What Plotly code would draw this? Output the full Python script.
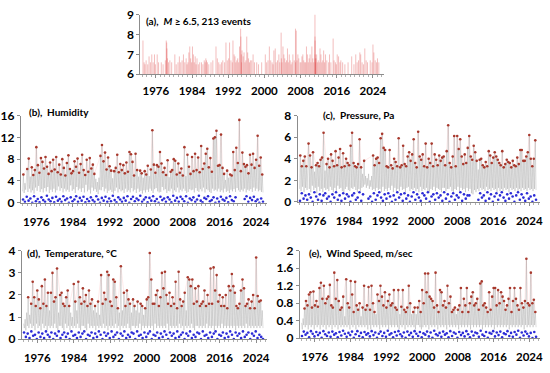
import plotly.graph_objects as go

# ---------------- data ----------------
eq_year = [1973.15,1973.4,1973.6,1973.85,1974.2,1974.5,1974.8,1975.1,1975.4,1975.7,1975.9,1976.3,1976.6,
1977.2,1977.6,1978.1,1978.3,1978.4,1978.45,1978.55,1978.8,1979.1,1979.5,1980.2,1980.5,1980.9,
1981.2,1981.5,1981.8,1982.1,1982.4,1982.7,1982.9,1983.1,1983.3,1983.5,1983.7,1983.9,
1984.1,1984.3,1984.5,1984.7,1984.9,1985.1,1985.4,1985.7,1986.1,1986.4,1986.7,1986.9,
1987.05,1987.2,1987.4,1987.7,1988.2,1988.6,1989.3,1989.6,1989.9,1990.2,1990.5,1990.8,
1991.2,1991.5,1991.8,1992.1,1992.3,1992.6,1992.9,1993.05,1993.3,1993.5,1993.7,1993.9,
1994.1,1994.3,1994.5,1994.75,1994.8,1994.9,1994.95,1995.05,1995.3,1995.5,1995.7,1995.9,
1996.1,1996.3,1996.5,1996.7,1996.9,1997.2,1997.5,1997.8,1998.3,1998.7,1999.4,
2000.2,2000.5,2000.8,2001.1,2001.4,2001.7,2001.9,2002.1,2002.4,2002.6,2002.9,
2003.2,2003.4,2003.7,2003.75,2003.9,2004.1,2004.3,2004.5,2004.7,2004.9,
2005.1,2005.3,2005.5,2005.7,2005.9,2006.1,2006.3,2006.6,2006.87,2006.9,
2007.04,2007.2,2007.4,2007.6,2007.9,2008.1,2008.3,2008.5,2008.7,2008.9,
2009.1,2009.3,2009.5,2009.7,2009.9,2010.1,2010.3,2010.5,2010.7,2010.9,
2011.18,2011.19,2011.2,2011.22,2011.25,2011.3,2011.4,2011.55,2011.7,2011.9,
2012.1,2012.3,2012.5,2012.7,2012.9,2013.1,2013.3,2013.5,2013.8,2014.2,2014.4,2014.7,
2015.2,2015.4,2015.7,2015.9,2016.1,2016.4,2016.7,2016.9,2017.3,2017.8,2018.5,
2019.3,2019.8,2020.2,2020.5,2020.8,2021.1,2021.3,2021.6,2021.9,2022.2,2022.5,2022.8,
2023.4,2023.8,2024.0,2024.2,2024.5,2024.8,2025.0,2025.3]
eq_mag = [7.7,6.6,6.5,6.7,6.5,6.9,6.6,7.0,6.6,7.0,6.5,7.0,6.6,
6.6,6.5,6.7,7.7,7.6,7.3,6.8,6.6,6.7,6.6,7.0,6.5,6.6,
6.9,6.6,6.7,7.0,6.6,6.8,6.5,6.6,7.1,7.4,6.8,6.6,
7.4,7.0,6.6,6.9,6.5,6.8,6.5,6.6,6.6,6.5,6.7,6.6,
6.8,6.7,6.6,6.5,6.6,6.7,7.4,6.8,6.6,6.5,6.6,6.7,
6.6,7.6,6.7,6.8,7.6,6.7,6.6,7.7,7.0,6.9,6.6,6.7,
6.8,6.6,7.4,8.3,7.9,7.0,6.6,7.2,6.9,7.1,6.6,6.7,
7.9,7.1,6.8,6.6,6.7,6.7,7.0,6.6,6.6,6.5,6.6,
7.0,6.6,6.7,7.4,6.7,6.6,6.5,7.2,7.3,6.6,6.7,
7.0,6.6,8.1,6.8,6.6,7.4,7.0,6.8,6.6,6.7,
7.3,6.6,7.0,6.7,6.5,6.6,7.0,6.7,8.3,6.6,
8.2,6.7,7.0,6.8,6.6,6.6,6.9,7.0,6.7,6.6,
6.6,7.4,7.0,6.6,6.8,7.0,6.6,7.4,6.8,6.6,
9.1,7.9,7.7,7.0,6.8,6.6,6.8,7.0,6.6,6.7,
6.6,7.3,7.0,6.6,6.7,7.2,6.6,7.0,6.7,6.6,7.0,6.6,
7.8,6.7,6.6,6.5,7.0,6.9,6.6,6.7,6.6,6.5,6.6,
6.9,6.5,7.0,6.6,6.7,7.1,7.0,6.6,6.5,7.3,6.7,6.6,
6.7,6.6,7.5,7.1,6.7,6.6,6.8,6.6]

series_start = 1973.0   # bimonthly samples
humidity = [2.1,5.2,1.8,3.6,2.4,4.1, 6.2,2.0,8.1,2.6,4.8,1.9, 6.5,2.3,5.1,1.7,6.0,2.8,
10.2,2.2,6.9,3.1,5.5,2.0, 8.2,2.5,7.5,1.9,6.3,2.7, 8.4,2.1,6.6,2.9,5.3,1.8,
7.4,2.4,5.8,2.0,7.9,2.6, 6.1,1.9,8.4,2.3,5.6,3.0, 7.0,2.2,5.2,2.7,8.0,1.9,
6.4,2.6,5.0,2.1,7.3,2.4, 8.7,2.0,6.2,3.2,5.4,2.2, 5.8,2.5,7.6,1.8,6.6,2.9,
8.1,2.3,5.5,2.6,7.1,2.0, 8.8,2.7,6.0,1.9,5.1,3.3, 7.9,2.1,5.7,2.4,8.2,1.7,
6.3,2.8,7.0,2.2,5.3,2.5, 4.4,2.0,3.8,1.6,4.6,2.4, 8.6,2.3,10.6,2.9,7.6,2.1,
9.2,2.6,6.1,1.8,8.3,2.2, 6.7,2.4,5.9,2.0,4.5,1.7, 5.8,2.2,6.4,2.8,8.8,1.9,
5.6,2.5,7.1,2.1,6.0,2.3, 6.9,1.8,5.4,2.6,7.4,2.0, 5.7,2.3,9.3,1.9,8.9,2.7,
7.5,2.1,5.0,2.4,9.0,1.8, 6.0,2.6,4.8,2.0,5.9,2.2, 5.4,1.7,4.6,2.3,5.8,1.9,
5.2,2.4,6.8,2.0,4.9,2.6, 6.1,2.2,13.3,1.8,7.0,2.5, 5.5,2.7,6.9,2.1,6.6,1.9,
9.3,2.0,7.2,2.9,5.6,2.3, 6.4,2.5,5.1,1.8,7.8,2.2, 4.7,2.1,5.7,2.6,6.0,1.7,
8.0,2.3,7.7,2.0,5.2,2.8, 7.2,1.9,5.5,2.4,6.3,2.1, 5.0,2.6,10.2,2.2,4.9,1.8,
8.8,2.0,6.6,2.5,5.3,2.3, 8.4,2.4,5.8,1.9,9.0,2.7, 6.0,2.2,8.3,2.0,5.6,2.5,
10.4,2.1,6.2,2.8,7.2,1.9, 9.0,2.5,9.9,2.3,6.5,2.0, 8.2,1.8,5.7,2.6,11.8,2.2,
12.0,2.4,13.2,2.1,6.8,2.6, 6.9,2.0,12.5,2.3,6.4,1.9, 5.3,2.6,4.2,2.0,5.9,2.2,
4.6,1.8,5.2,2.4,5.0,2.1, 9.3,2.5,6.0,2.0,10.1,2.7, 7.3,2.3,15.2,2.0,5.8,2.4,
9.2,2.1,7.1,2.6,6.6,1.9, 6.9,2.4,5.4,2.2,8.8,2.5, 7.0,2.0,9.0,2.8,6.4,2.2,
7.9,2.6,12.3,2.1,6.8,2.3, 8.3,2.0,5.2,1.9]
pressure = [1.2,4.3,1.0,3.3,1.4,3.8, 0.9,4.2,1.3,3.3,1.1,2.6, 5.4,1.2,4.3,0.9,3.2,1.5,
4.6,1.1,2.8,1.3,3.4,0.8, 3.6,1.4,3.3,1.0,3.9,1.2, 4.1,0.9,6.4,1.3,2.9,1.1,
3.5,1.2,4.0,1.0,3.2,1.4, 4.4,1.1,3.8,0.9,3.3,1.3, 4.7,1.0,3.4,1.5,4.1,1.2,
4.9,1.3,3.2,1.0,4.5,0.9, 3.3,1.2,4.0,1.4,3.6,1.1, 3.4,1.0,5.2,1.3,6.4,1.2,
3.6,1.4,3.3,1.1,3.2,0.9, 3.5,1.2,5.8,1.0,3.2,1.3, 2.6,1.4,3.8,1.6,2.4,1.3,
2.2,1.5,2.6,1.2,2.0,1.4, 2.4,1.1,4.3,1.2,3.4,1.0, 4.0,1.3,4.1,1.1,3.6,1.2,
5.9,0.9,6.3,1.4,5.0,1.0, 4.8,1.2,3.3,1.0,3.2,1.3, 4.8,1.1,3.4,1.5,3.1,0.9,
4.0,1.3,3.7,1.0,3.3,1.2, 5.9,1.0,3.2,1.4,3.4,1.1, 5.2,1.2,3.5,0.9,3.3,1.3,
4.2,1.4,4.6,1.0,3.8,1.2, 4.4,1.1,5.8,1.3,3.6,1.0, 3.2,1.2,6.5,0.9,4.2,1.4,
3.9,1.0,4.4,1.2,3.3,1.1, 5.4,1.3,3.2,1.0,4.0,0.9, 3.6,1.2,5.4,1.1,3.3,1.4,
4.4,1.0,3.9,1.3,3.4,1.2, 4.3,1.1,3.8,0.9,4.1,1.3, 4.2,1.3,3.4,1.0,4.7,1.2,
7.1,1.2,3.6,1.4,3.2,1.0, 4.2,0.9,6.1,1.2,3.3,1.1, 6.1,1.4,4.9,1.0,5.8,1.3,
4.2,1.1,3.5,1.2,4.4,0.9, 3.6,1.3,5.0,1.0,6.1,1.2, 4.2,0.8,3.9,0.7,5.2,1.1,
4.6,0.9,3.8,1.2,3.0,1.0, 3.9,1.3,4.0,1.1,3.4,1.2, 3.2,1.0,3.7,1.4,3.3,1.1,
4.7,1.2,4.3,1.0,3.6,1.3, 4.1,1.1,4.6,1.2,4.2,0.9, 3.9,1.3,3.6,1.0,3.4,1.2,
4.7,1.0,3.2,1.3,3.5,1.1, 3.9,1.2,3.7,0.9,3.6,1.3, 3.2,1.1,3.8,1.2,3.4,1.0,
3.3,1.3,4.1,1.0,3.5,1.2, 4.8,1.0,4.8,1.3,3.8,1.1, 3.8,1.2,4.2,1.0,4.6,1.3,
6.2,1.1,4.0,1.2,3.3,1.0, 4.0,1.2,5.7,1.1]
temperature = [0.7,0.5,0.9,0.4,1.2,0.6, 1.9,0.5,1.1,0.7,1.6,0.5, 2.6,0.6,1.9,0.4,1.5,0.7,
2.2,0.5,1.8,0.6,1.4,0.4, 2.4,0.7,1.6,0.5,2.7,0.6, 1.5,0.4,2.1,0.6,1.3,0.5,
2.1,0.6,3.0,0.5,1.7,0.7, 1.9,0.5,3.2,0.4,1.2,0.6, 2.0,0.6,2.1,0.5,1.6,0.4,
1.5,0.7,1.9,0.5,2.2,0.6, 1.5,0.4,1.2,0.6,1.0,0.5, 2.5,0.6,1.7,0.5,1.3,0.7,
2.6,0.5,1.9,0.4,1.6,0.6, 2.3,0.6,1.7,0.5,2.0,0.4, 1.5,0.7,2.2,0.5,1.6,0.6,
1.8,0.5,1.3,0.6,1.5,0.4, 1.2,0.6,1.7,0.5,1.1,0.6, 2.9,0.5,1.6,0.7,2.1,0.5,
1.8,0.6,3.05,0.4,2.9,0.6, 1.7,0.5,1.5,0.6,2.7,0.5, 2.6,0.7,1.9,0.5,1.4,0.6,
1.2,0.4,3.3,0.6,1.3,0.5, 2.1,0.6,1.5,0.5,2.2,0.7, 1.8,0.5,1.6,0.4,1.2,0.6,
1.8,0.6,1.5,0.5,1.3,0.6, 1.7,0.5,1.2,0.7,1.6,0.4, 1.5,0.6,1.1,0.5,1.4,0.6,
1.8,0.5,1.9,0.6,3.9,0.5, 2.7,0.6,1.6,0.4,1.6,0.7, 2.0,0.5,2.2,0.6,1.5,0.5,
1.9,0.6,3.0,0.5,2.3,0.6, 3.05,0.5,2.0,0.7,1.6,0.4, 2.1,0.6,1.5,0.5,1.9,0.6,
1.6,0.5,2.6,0.6,1.4,0.5, 3.05,0.7,1.8,0.5,1.5,0.6, 1.7,0.4,2.1,0.6,1.3,0.5,
2.8,0.6,2.7,0.5,2.4,0.7, 2.7,0.5,1.6,0.4,2.3,0.6, 1.7,0.6,2.4,0.5,1.5,0.6,
1.6,0.5,1.7,0.6,2.2,0.5, 1.5,0.7,2.0,0.5,1.6,0.6, 3.2,0.5,1.6,0.6,3.25,0.4,
2.2,0.6,2.9,0.5,1.7,0.6, 2.0,0.5,1.5,0.7,1.9,0.5, 1.5,0.6,2.0,0.5,1.4,0.6,
2.4,0.5,2.2,0.6,2.95,0.5, 2.4,0.6,2.1,0.4,1.5,0.6, 1.4,0.5,1.6,0.6,2.2,0.5,
2.7,0.6,2.3,0.5,1.5,0.7, 1.6,0.5,1.8,0.6,1.4,0.5, 1.7,0.6,2.0,0.5,1.4,0.6,
3.7,0.5,1.95,0.6,1.7,0.5, 1.75,0.6,1.3,0.5]
wind = [0.35,0.2,0.45,0.3,0.68,0.25, 0.85,0.3,0.75,0.2,1.0,0.3, 1.05,0.25,0.7,0.3,1.07,0.2,
0.75,0.3,0.85,0.25,0.72,0.3, 1.15,0.2,1.27,0.3,0.9,0.25, 1.2,0.3,0.8,0.2,0.9,0.3,
0.95,0.25,1.22,0.3,0.75,0.2, 0.7,0.3,1.5,0.25,0.9,0.3, 1.33,0.2,0.85,0.3,0.65,0.25,
0.7,0.3,0.95,0.25,0.5,0.3, 1.35,0.25,0.8,0.3,0.7,0.2, 1.31,0.3,1.0,0.25,0.6,0.3,
1.29,0.2,0.75,0.3,0.65,0.25, 0.8,0.3,0.5,0.25,0.7,0.3, 1.2,0.25,0.65,0.3,0.75,0.2,
1.17,0.3,0.65,0.2,1.2,0.3, 0.8,0.25,0.6,0.3,0.55,0.25, 1.0,0.3,0.85,0.2,1.2,0.3,
0.95,0.25,0.75,0.3,1.05,0.25, 0.7,0.3,0.85,0.2,1.0,0.3, 0.75,0.25,0.8,0.3,1.1,0.25,
0.7,0.3,0.65,0.25,1.1,0.2, 0.55,0.3,0.72,0.25,1.1,0.3, 0.65,0.2,0.6,0.3,0.7,0.25,
1.2,0.3,0.8,0.25,0.55,0.3, 0.6,0.25,0.7,0.2,0.55,0.3, 0.7,0.3,0.85,0.25,0.6,0.2,
1.1,0.25,0.8,0.3,1.48,0.25, 1.05,0.3,1.48,0.2,0.95,0.3, 0.9,0.25,0.85,0.3,0.7,0.25,
1.5,0.3,0.75,0.2,0.6,0.3, 1.1,0.25,1.05,0.3,0.75,0.25, 0.85,0.3,0.7,0.2,1.2,0.3,
0.8,0.25,0.95,0.3,0.6,0.25, 0.65,0.3,0.7,0.25,0.55,0.3, 0.65,0.2,0.75,0.3,1.15,0.25,
0.6,0.3,0.9,0.25,0.75,0.3, 1.15,0.25,0.6,0.3,0.8,0.2, 0.95,0.3,1.05,0.25,0.75,0.3,
0.8,0.25,0.9,0.3,0.65,0.25, 1.25,0.3,1.3,0.2,0.75,0.3, 0.8,0.25,0.7,0.3,0.6,0.25,
1.05,0.3,0.65,0.25,0.95,0.3, 1.15,0.2,1.15,0.3,0.75,0.25, 1.1,0.3,0.8,0.25,1.05,0.3,
0.95,0.25,0.85,0.3,0.65,0.25, 0.75,0.3,0.9,0.2,1.15,0.3, 0.6,0.25,0.85,0.3,1.15,0.25,
0.9,0.3,0.75,0.25,0.65,0.3, 1.15,0.25,0.8,0.3,0.7,0.2, 0.85,0.3,1.82,0.25,0.8,0.3,
0.75,0.25,1.5,0.3,0.8,0.25, 0.88,0.3,0.6,0.25]

minima_start = 1973.1   # minima sampled every 0.4 yr
hum_min = [0.6,0.2,1.1,0.4,0.8,0.0,1.2,0.3,0.7,0.1, 1.0,0.5,0.2,1.3,0.6,0.3,0.9,0.1,1.1,0.4,
0.7,0.2,1.2,0.5,0.8,0.0,1.0,0.3,0.6,1.2, 0.2,0.9,0.4,1.1,0.1,0.7,0.3,1.0,0.5,0.2,
1.2,0.6,0.0,0.9,0.4,1.1,0.2,0.8,0.3,1.3, 0.5,0.1,1.0,0.6,0.2,0.9,0.4,1.2,0.0,0.7,
1.1,0.3,0.8,0.5,1.3,0.2,0.6,1.0,0.1,0.9, 0.4,1.2,0.3,0.7,0.0,1.1,0.5,0.8,0.2,1.0,
0.6,0.1,1.3,0.4,0.9,0.2,1.1,0.7,0.3,1.2, 0.0,0.8,0.5,1.0,0.2,0.6,1.3,0.4,0.1,0.9,
0.7,1.2,0.3,0.5,1.0,0.0,0.8,0.2,1.1,0.6, 0.4,0.9,0.1,1.2,0.5,0.3,1.0,None,None,None,
None,0.7,1.2,0.2,0.9,0.5,1.1,0.3,0.6,0.0, 0.8,0.2]
pres_min = [0.1,0.8,0.3,0.6,0.2,0.7,0.4,0.0,0.9,0.5, 0.2,0.7,0.1,0.6,0.8,0.3,0.5,0.0,0.7,0.4,
0.9,0.2,0.6,0.1,0.8,0.3,0.7,0.5,0.0,0.6, 0.8,0.2,0.4,0.9,0.1,0.7,None,None,0.3,0.5,
0.0,0.8,0.2,0.6,0.9,0.4,0.1,0.7,0.3,0.8, 0.5,0.0,0.6,0.2,0.9,0.4,0.7,0.1,0.8,0.3,
0.6,0.0,0.5,0.9,0.2,0.7,0.4,0.1,0.8,0.6, 0.3,0.9,0.0,0.5,0.7,0.2,0.8,0.4,0.6,0.1,
0.9,0.3,0.7,0.0,0.5,0.8,0.2,0.6,0.4,0.9, 0.1,0.7,0.3,0.6,0.6,None,None,None,None,0.2,
0.8,0.4,0.6,0.1,0.9,0.3,0.7,0.0,0.5,0.8, 0.2,0.6,0.9,0.4,0.1,0.7,0.3,0.8,0.5,0.0,
0.6,0.9,0.2,0.7,0.4,0.1,0.8,0.3,0.5,0.0, 0.6,0.2]
temp_min = [0.3,0.1,0.25,0.05,0.35,0.15,0.2,0.0,0.3,0.1, 0.25,0.05,0.35,0.2,0.1,0.3,0.0,0.25,0.15,0.35,
0.05,0.2,0.3,0.1,0.25,0.0,0.35,0.15,0.2,0.05, 0.3,0.1,0.25,0.35,0.0,0.2,0.15,0.3,0.05,0.25,
0.1,0.35,0.2,0.0,0.3,0.15,0.25,0.05,0.35,0.1, 0.2,0.3,0.0,0.25,0.15,0.35,0.05,0.2,0.1,0.3,
0.25,0.0,0.35,0.15,0.2,0.05,0.3,0.1,0.25,0.35, 0.0,0.2,0.15,0.3,0.05,0.25,0.1,0.35,0.2,0.0,
0.3,0.15,0.25,0.05,0.35,0.1,0.2,0.3,0.0,0.25, 0.15,0.35,0.05,0.2,0.1,0.3,0.25,0.0,0.35,0.15,
0.2,0.05,0.3,0.1,0.25,0.35,0.0,0.2,0.15,0.3, 0.05,0.25,0.1,0.35,0.2,0.0,0.3,0.15,0.25,0.05,
0.35,0.1,0.2,0.3,0.0,0.25,0.15,0.35,0.05,0.2, 0.1,0.0]
wind_min = [0.05,0.15,0.08,0.12,0.02,0.16,0.1,0.04,0.14,0.07, 0.12,0.01,0.16,0.09,0.05,0.13,0.03,0.15,0.08,0.11,
0.02,0.14,0.06,0.17,0.1,0.03,0.12,0.07,0.15,0.01, 0.09,0.16,0.05,0.12,0.02,0.14,0.08,0.11,0.04,0.16,
0.07,0.13,0.01,0.1,0.15,0.05,0.12,0.03,0.17,0.08, 0.11,0.02,0.14,0.06,0.16,0.09,0.04,0.13,0.01,0.15,
0.07,0.12,0.03,0.16,0.1,0.05,0.14,0.02,0.11,0.08, 0.15,0.04,0.13,0.01,0.17,0.09,0.06,0.12,0.03,0.15,
0.08,0.11,0.02,0.16,0.05,0.13,0.1,0.01,0.14,0.07, 0.12,0.04,0.16,0.09,0.02,0.15,0.06,0.13,0.11,0.03,
0.17,0.08,0.05,0.14,0.01,0.12,0.1,0.16,0.04,0.13, 0.07,0.15,0.02,0.11,0.09,0.16,0.05,0.12,0.03,0.14,
0.08,0.17,0.01,0.13,0.06,0.15,0.1,0.04,0.12,0.0, 0.14,0.03]

year_ticks = [1976, 1984, 1992, 2000, 2008, 2016, 2024]

panels = [
    # values, minima, peak threshold, y range, dtick, title, x domain, y domain, title pos
    (humidity, hum_min, 5.0, [0, 16], 4, "<b>(b),  Humidity</b>",
     [0.0327, 0.4855], [0.4558, 0.6997], (0.044, 0.7105)),
    (pressure, pres_min, 3.1, [0, 8], 2, "<b>(c),  Pressure, Pa</b>",
     [0.5418, 0.9873], [0.4584, 0.6997], (0.585, 0.7024)),
    (temperature, temp_min, 1.4, [0, 4], 1, "<b>(d),  Temperature, °C</b>",
     [0.0345, 0.4855], [0.0751, 0.3217], (0.04, 0.3164)),
    (wind, wind_min, 0.6, [0, 2], 0.4, "<b>(e),  Wind Speed, m/sec</b>",
     [0.5455, 0.9873], [0.0778, 0.3217], (0.558, 0.3164)),
]

FONT = "Lato"
AX = dict(showline=True, linecolor="#8c8c8c", linewidth=1, showgrid=False, zeroline=False,
          ticks="outside", ticklen=3, tickcolor="#8c8c8c",
          tickfont=dict(family=FONT, size=11.5, color="black", weight="bold"))
XMINOR = dict(dtick=1, tick0=1972, ticks="outside", ticklen=2, tickcolor="#b0b0b0")

fig = go.Figure()

# ---- panel (a): earthquake stems ----
sx, sy = [], []
for t, m in zip(eq_year, eq_mag):
    sx += [t, t, None]
    sy += [6, m, None]
fig.add_trace(go.Scatter(x=sx, y=sy, mode="lines", line=dict(color="rgba(225,90,90,0.5)", width=0.8),
                         xaxis="x", yaxis="y", hoverinfo="skip", showlegend=False))

layout = dict(width=550, height=373, margin=dict(l=0, r=0, t=0, b=0),
              paper_bgcolor="white", plot_bgcolor="white", showlegend=False)
layout["xaxis"] = dict(AX, domain=[0.2527, 0.700], anchor="y", range=[1972.6, 2026.4],
                       tickvals=year_ticks, minor=XMINOR, ticklabelstandoff=3)
layout["yaxis"] = dict(AX, domain=[0.815, 0.981], anchor="x", range=[6, 9], dtick=1,
                       tickfont=dict(family=FONT, size=12, color="black", weight="bold"))

annotations = [dict(text="<b>(a),  <i>M</i> ≥ 6.5, 213 events</b>", x=0.26, y=0.965, xref="paper", yref="paper",
                    xanchor="left", yanchor="middle", showarrow=False, font=dict(family=FONT, size=10, color="black"))]

for k, (vals, mins, thr, yr, dt, title, xd, yd, tpos) in enumerate(panels, start=2):
    xa, ya = f"x{k}", f"y{k}"
    t = [series_start + i / 6 for i in range(len(vals))]
    tm = [minima_start + 0.4 * i for i in range(len(mins))]
    pk_t = [tt for tt, v in zip(t, vals) if v >= thr]
    pk_v = [v for v in vals if v >= thr]
    fig.add_trace(go.Scatter(x=pk_t, y=pk_v, mode="lines", line=dict(color="rgba(255,120,120,0.15)", width=1),
                             xaxis=xa, yaxis=ya, hoverinfo="skip"))
    fig.add_trace(go.Scatter(x=t, y=vals, mode="lines", line=dict(color="rgba(150,150,150,0.55)", width=0.6),
                             xaxis=xa, yaxis=ya, hoverinfo="skip"))
    fig.add_trace(go.Scatter(x=pk_t, y=pk_v, mode="markers", marker=dict(color="#a8382c", size=2.6),
                             xaxis=xa, yaxis=ya, hoverinfo="skip"))
    fig.add_trace(go.Scatter(x=tm, y=mins, mode="markers", marker=dict(color="#2b2bd6", size=2.6),
                             xaxis=xa, yaxis=ya, hoverinfo="skip"))
    layout[f"xaxis{k}"] = dict(AX, domain=xd, anchor=ya, range=[1972.6, 2026.4], tickvals=year_ticks,
                               minor=XMINOR, ticklabelstandoff=5)
    layout[f"yaxis{k}"] = dict(AX, domain=yd, anchor=xa, range=yr, dtick=dt,
                               tickfont=dict(family=FONT, size=12, color="black", weight="bold"))
    annotations.append(dict(text=title, x=tpos[0], y=tpos[1], xref="paper", yref="paper",
                            xanchor="left", yanchor="middle", showarrow=False,
                            font=dict(family=FONT, size=10, color="black")))

layout["annotations"] = annotations
fig.update_layout(**layout)
fig.write_html("out.html", config={"displayModeBar": False},
               post_script="document.body.style.margin='0';document.body.style.overflow='hidden';")
